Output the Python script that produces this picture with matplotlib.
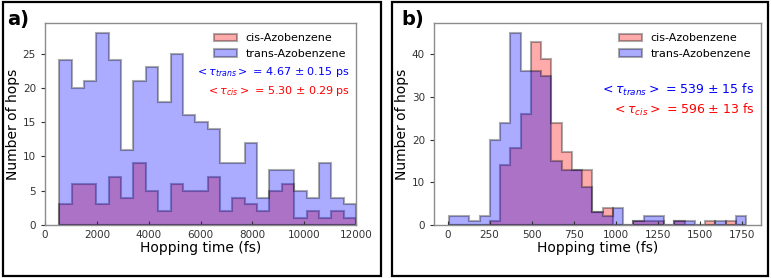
import numpy as np
import matplotlib
matplotlib.use("Agg")
import matplotlib.pyplot as plt
from matplotlib.patches import Rectangle

# panel a: hopping times up to 12 ps, 24 bins
a_start, a_stop, a_nbins = 550, 12000, 24
a_trans = [24, 20, 21, 28, 24, 11, 21, 23, 18, 25, 16, 15,
           14, 9, 9, 12, 4, 8, 8, 5, 4, 9, 4, 3]
a_cis = [3, 6, 6, 3, 7, 4, 9, 5, 2, 6, 5, 5,
         7, 2, 4, 3, 2, 5, 6, 1, 2, 1, 2, 1]
a_xticks = [0, 2000, 4000, 6000, 8000, 10000, 12000]
a_yticks = [0, 5, 10, 15, 20, 25]
a_trans_text = r"$<\tau_{trans}>$ = 4.67 ± 0.15 ps"
a_cis_text = r"$<\tau_{cis}>$ = 5.30 ± 0.29 ps"

# panel b: hopping times up to ~1.8 ps, 29 bins
b_start, b_stop, b_nbins = 8, 1777, 29
b_trans = [2, 2, 1, 2, 20, 24, 45, 36, 36, 35, 15, 13, 13, 9, 3,
           2, 4, 0, 1, 2, 2, 0, 1, 1, 0, 0, 1, 0, 2]
b_cis = [0, 0, 0, 0, 1, 14, 18, 26, 43, 39, 24, 17, 13, 13, 3,
         4, 0, 0, 1, 1, 1, 0, 1, 0, 0, 1, 0, 1, 0]
b_xticks = [0, 250, 500, 750, 1000, 1250, 1500, 1750]
b_yticks = [0, 10, 20, 30, 40]
b_trans_text = r"$<\tau_{trans}>$ = 539 ± 15 fs"
b_cis_text = r"$<\tau_{cis}>$ = 596 ± 13 fs"


def draw_panel(ax, edges, cis, trans, xticks, yticks, trans_text, cis_text, fs_txt, y_txt):
    centers = 0.5 * (edges[:-1] + edges[1:])
    ax.hist(centers, bins=edges, weights=cis, histtype="stepfilled", color="red",
            alpha=0.33, edgecolor="k", linewidth=1.5, label="cis-Azobenzene")
    ax.hist(centers, bins=edges, weights=trans, histtype="stepfilled", color="blue",
            alpha=0.33, edgecolor="k", linewidth=1.5, label="trans-Azobenzene")
    ax.set_xticks(xticks)
    ax.set_yticks(yticks)
    ax.set_xlabel("Hopping time (fs)", fontsize=10, labelpad=1)
    ax.set_ylabel("Number of hops", fontsize=10, labelpad=2)
    ax.tick_params(labelsize=7.5, colors="0.2", length=3, width=0.8)
    ax.tick_params(axis="x", direction="in")
    for sp in ax.spines.values():
        sp.set_color("0.55")
        sp.set_linewidth(1.0)
    ax.legend(loc="upper right", frameon=False, fontsize=8,
              borderaxespad=0.5, handletextpad=0.8, labelspacing=0.5)
    ax.text(0.98, y_txt[0], trans_text, color="blue", fontsize=fs_txt,
            ha="right", va="center", transform=ax.transAxes)
    ax.text(0.98, y_txt[1], cis_text, color="red", fontsize=fs_txt,
            ha="right", va="center", transform=ax.transAxes)


fig = plt.figure(figsize=(7.71, 2.78), dpi=100)
ax1 = fig.add_axes([0.0584, 0.1906, 0.4034, 0.725])
ax2 = fig.add_axes([0.5629, 0.1906, 0.4241, 0.725])

edges_a = np.linspace(a_start, a_stop, a_nbins + 1)
draw_panel(ax1, edges_a, a_cis, a_trans, a_xticks, a_yticks,
           a_trans_text, a_cis_text, 8, (0.76, 0.665))
ax1.set_xlim(0, 12000)

edges_b = np.linspace(b_start, b_stop, b_nbins + 1)
draw_panel(ax2, edges_b, b_cis, b_trans, b_xticks, b_yticks,
           b_trans_text, b_cis_text, 9, (0.672, 0.572))

# frames round the two panels
fig.add_artist(Rectangle((2.5 / 771, 2.5 / 278), 378 / 771, 273 / 278, transform=fig.transFigure,
                         fill=False, edgecolor="k", linewidth=1.6))
fig.add_artist(Rectangle((392 / 771, 2.5 / 278), 376 / 771, 273 / 278, transform=fig.transFigure,
                         fill=False, edgecolor="k", linewidth=1.6))
fig.text(7 / 771, 1 - 25 / 278, "a)", fontsize=14, fontweight="bold")
fig.text(401 / 771, 1 - 25 / 278, "b)", fontsize=14, fontweight="bold")

fig.savefig("out.png", dpi=100)
